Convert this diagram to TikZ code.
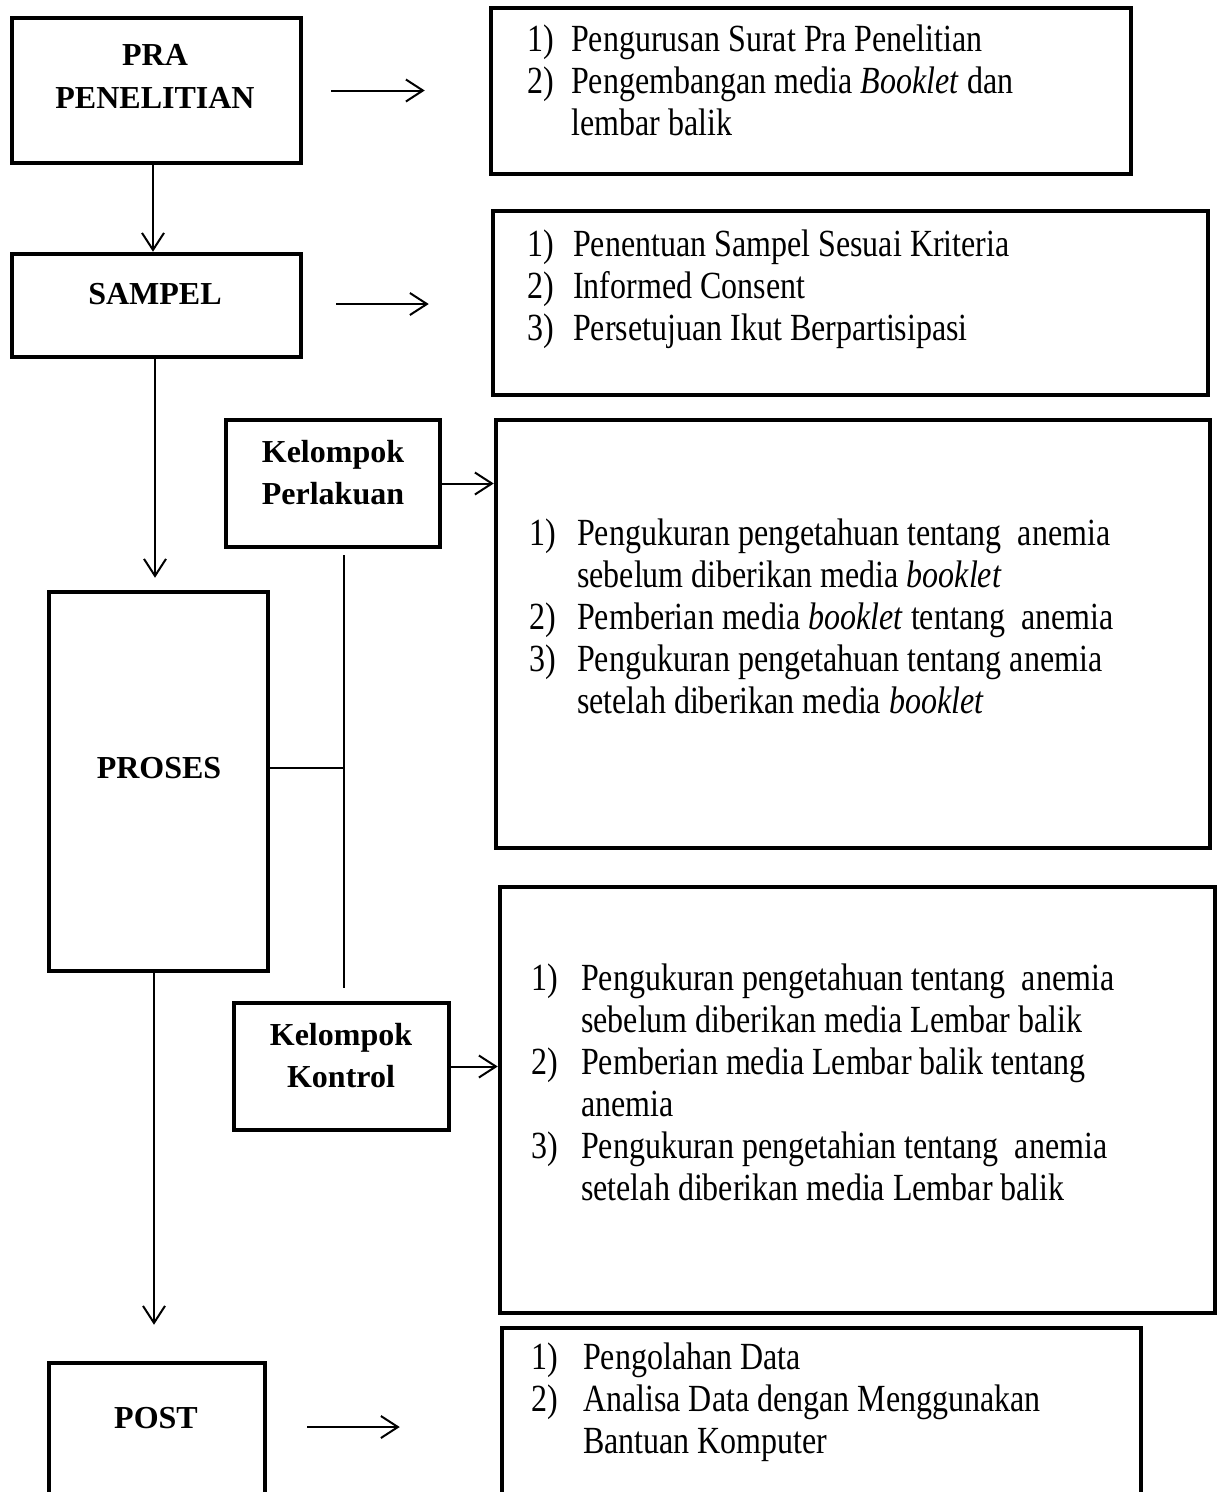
\documentclass[tikz,border=0pt]{standalone}
\usepackage{fontspec}
\setmainfont{Liberation Serif}
\usetikzlibrary{arrows.meta}
\newcommand\tallbox[1]{\scalebox{1}[1.2]{#1}}
\begin{document}
\begin{tikzpicture}[x=1pt,y=-1pt,
  box/.style={draw, line width=4.5pt, inner sep=0pt, rectangle},
  lbl/.style={font=\fontsize{32}{42}\selectfont\bfseries, anchor=base, inner sep=0pt},
  lst/.style={font=\fontsize{32}{35}\selectfont, anchor=base west, inner sep=0pt},
  conn/.style={line width=2pt},
  thinconn/.style={line width=1.6pt},
  arr/.style={conn, -{Straight Barb[length=17pt,width=22pt,line width=2pt]}}]
\clip (0,0) rectangle (1221,1492);
\fill[white] (0,0) rectangle (1221,1492);
% boxes
\node[box, minimum width=289pt, minimum height=145pt] (pra) at (156.5,90.5) {};
\node[box, minimum width=640pt, minimum height=166pt] (b1) at (811,91) {};
\node[box, minimum width=289pt, minimum height=103pt] (sampel) at (156.5,305.5) {};
\node[box, minimum width=715pt, minimum height=184pt] (b2) at (850.5,303) {};
\node[box, minimum width=214pt, minimum height=127pt] (perl) at (333,483.5) {};
\node[box, minimum width=714pt, minimum height=428pt] (b3) at (853,634) {};
\node[box, minimum width=219pt, minimum height=379pt] (proses) at (158.5,781.5) {};
\node[box, minimum width=215pt, minimum height=127pt] (kon) at (341.5,1066.5) {};
\node[box, minimum width=715pt, minimum height=426pt] (b4) at (857.5,1100) {};
\node[box, minimum width=216pt, minimum height=177pt] (post) at (157,1451.5) {};
\node[box, minimum width=639pt, minimum height=212pt] (b5) at (821.5,1434) {};
% labels
\node[lbl] (tpra) at (155,65) {PRA};
\node[lbl] (tpen) at (155,108) {PENELITIAN};
\node[lbl] (tsam) at (155,304) {SAMPEL};
\node[lbl] (tk1) at (333,462) {Kelompok};
\node[lbl] (tper) at (333,504) {Perlakuan};
\node[lbl] (tpro) at (159,778) {PROSES};
\node[lbl] (tk2) at (341,1045) {Kelompok};
\node[lbl] (tkon) at (341,1087) {Kontrol};
\node[lbl] (tpost) at (156,1428) {POST};
% lists
\node[lst] (l1) at (527,51) {\tallbox{\begin{tabular}[t]{@{}p{44pt}@{}l@{}}
1) & Pengurusan Surat Pra Penelitian\\
2) & Pengembangan media \textit{Booklet} dan\\
   & lembar balik\end{tabular}}};
\node[lst] (l2) at (527,256) {\tallbox{\begin{tabular}[t]{@{}p{46pt}@{}l@{}}
1) & Penentuan Sampel Sesuai Kriteria\\
2) & Informed Consent\\
3) & Persetujuan Ikut Berpartisipasi\end{tabular}}};
\node[lst] (l3) at (529,545) {\tallbox{\begin{tabular}[t]{@{}p{48pt}@{}l@{}}
1) & Pengukuran pengetahuan tentang\ \ anemia\\
   & sebelum diberikan media \textit{booklet}\\
2) & Pemberian media \textit{booklet} tentang\ \ anemia\\
3) & Pengukuran pengetahuan tentang anemia\\
   & setelah diberikan media \textit{booklet}\end{tabular}}};
\node[lst] (l4) at (531,990) {\tallbox{\begin{tabular}[t]{@{}p{50pt}@{}l@{}}
1) & Pengukuran pengetahuan tentang\ \ anemia\\
   & sebelum diberikan media Lembar balik\\
2) & Pemberian media Lembar balik tentang\\
   & anemia\\
3) & Pengukuran pengetahian tentang\ \ anemia\\
   & setelah diberikan media Lembar balik\end{tabular}}};
\node[lst] (l5) at (531,1369) {\tallbox{\begin{tabular}[t]{@{}p{52pt}@{}l@{}}
1) & Pengolahan Data\\
2) & Analisa Data dengan Menggunakan\\
   & Bantuan Komputer\end{tabular}}};
% connectors
\draw[arr, shorten <=28pt, shorten >=64pt] (pra.east) -- (pra.east -| b1.west);
\draw[arr, shorten <=33pt, shorten >=62pt] ([yshift=1.5pt]sampel.east) -- ([yshift=1.5pt]sampel.east -| b2.west);
\draw[arr] (perl.east) -- (perl.east -| b3.west);
\draw[arr] (kon.east) -- (kon.east -| b4.west);
\draw[arr, shorten <=40pt, shorten >=100pt] ([yshift=24.5pt]post.east) -- ([yshift=24.5pt]post.east -| b5.west);
\draw[arr] ([xshift=-3.5pt]pra.south) -- ([xshift=-3.5pt]sampel.north);
\draw[arr, shorten >=12pt] ([xshift=-1.5pt]sampel.south) -- ([xshift=-1.5pt]sampel.south |- proses.north);
\draw[arr, shorten >=36pt] ([xshift=-4.5pt]proses.south) -- ([xshift=-4.5pt]proses.south |- post.north);
\coordinate (jt) at (344,555);
\coordinate (jb) at (344,988);
\coordinate (j) at (344,768);
\draw[thinconn] (jt) -- (jb);
\draw[thinconn] (proses.east |- j) -- (j);
\end{tikzpicture}
\end{document}
